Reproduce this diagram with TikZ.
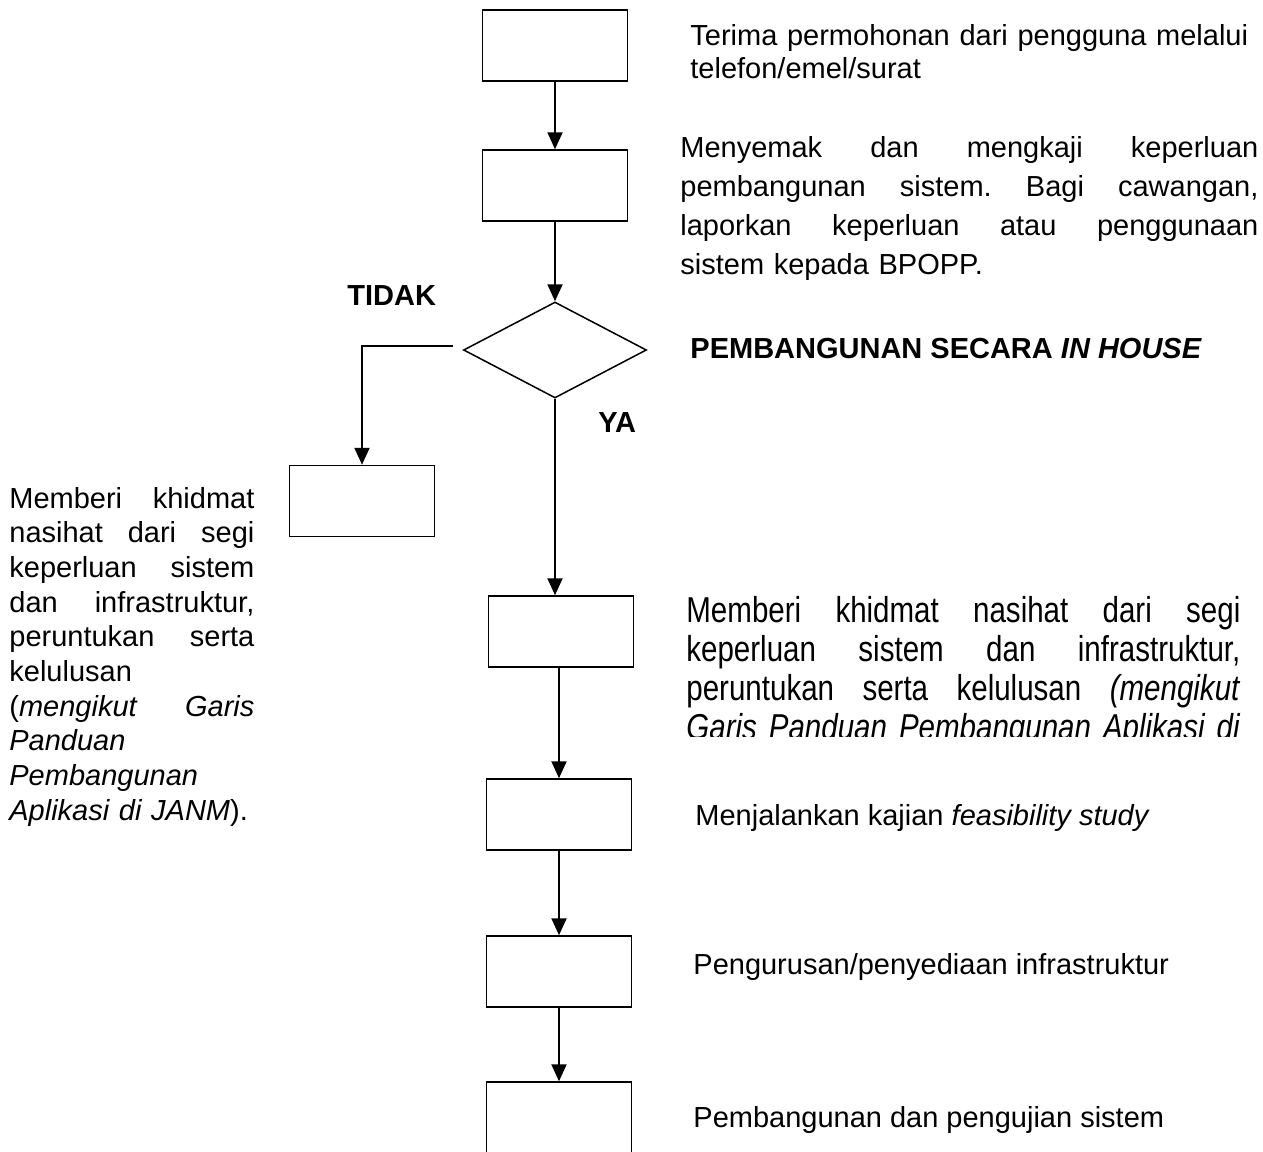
\documentclass[tikz,border=0pt]{standalone}
\usepackage{fontspec}
\setmainfont{Liberation Sans}
\newfontfamily\narrowsans[FakeStretch=0.82]{Liberation Sans}
\usetikzlibrary{arrows.meta,shapes.geometric}

\newcommand\jline[2]{\leavevmode\hbox to #1{\spaceskip=.278em plus 1fil\xspaceskip=\spaceskip #2}}

\tikzset{
  stepbox/.style={draw,line width=0.75pt,minimum width=72.5pt,minimum height=35.5pt,inner sep=0pt},
  choice/.style={draw,diamond,line width=0.75pt,minimum width=91.5pt,minimum height=48pt,inner sep=0pt},
  flow/.style={line width=1pt,-{Triangle[length=8.5pt,width=7.5pt]}},
  note/.style={anchor=base west,inner sep=0pt,align=left},
  answer/.style={anchor=base west,inner sep=0pt,font=\fontsize{14.5}{17}\selectfont\bfseries}
}

\begin{document}
\begin{tikzpicture}[x=0.5pt,y=-0.5pt]
  \useasboundingbox (0,0) rectangle (1263,1151);
  \clip (0,0) rectangle (1263,1151);

  \node[stepbox] (recv) at (555,45.5) {};
  \node[stepbox] (check) at (555,185.5) {};
  \node[choice] (decide) at (555,350) {};
  \node[stepbox] (advise) at (362,501) {};
  \node[stepbox] (consult) at (561,631.5) {};
  \node[stepbox] (study) at (559,814.5) {};
  \node[stepbox] (infra) at (559,971.5) {};
  \node[stepbox] (build) at (559,1117.5) {};
  \coordinate (nostart) at (453,346);

  \draw[flow] (recv) -- (check);
  \draw[flow] (check) -- (decide);
  \draw[flow] (nostart) -| (advise);
  \draw[flow] (decide) -- (decide |- consult.north);
  \draw[flow] (study |- consult.south) -- (study);
  \draw[flow] (study) -- (infra);
  \draw[flow] (infra) -- (build);

  \node[answer] (tidak) at (347,305) {TIDAK};
  \node[answer] (ya) at (598,432) {YA};
  \node[answer] (inhouse) at (690,358) {PEMBANGUNAN SECARA \textit{IN HOUSE}};

  \node[note,text width=280pt,font=\fontsize{14.5}{16.25}\selectfont] (recvtxt) at (690,46)
    {Terima permohonan dari pengguna melalui\\ telefon/emel/surat};
  \node[note,text width=289pt,font=\fontsize{14.5}{19.5}\selectfont] (checktxt) at (680,157)
    {\jline{289pt}{Menyemak dan mengkaji keperluan}\\
     \jline{289pt}{pembangunan sistem. Bagi cawangan,}\\
     \jline{289pt}{laporkan keperluan atau penggunaan}\\
     sistem kepada BPOPP.};
  \node[note,text width=122.5pt,font=\fontsize{14.5}{17.35}\selectfont] (advisetxt) at (9,508)
    {\jline{122.5pt}{Memberi khidmat}\\
     \jline{122.5pt}{nasihat dari segi}\\
     \jline{122.5pt}{keperluan sistem}\\
     \jline{122.5pt}{dan infrastruktur,}\\
     \jline{122.5pt}{peruntukan serta}\\
     kelulusan\\
     \jline{122.5pt}{(\textit{mengikut Garis}}\\
     \textit{Panduan}\\
     \textit{Pembangunan}\\
     \textit{Aplikasi di JANM}).};
  \begin{scope}
    \clip (680,560) rectangle (1263,736);
    \node[note,text width=277pt,font=\narrowsans\fontsize{18}{19.5}\selectfont] (consulttxt) at (686,622)
      {\jline{277pt}{Memberi khidmat nasihat dari segi}\\
       \jline{277pt}{keperluan sistem dan infrastruktur,}\\
       \jline{277pt}{peruntukan serta kelulusan \textit{(mengikut}}\\
       \jline{277pt}{\textit{Garis Panduan Pembangunan Aplikasi di}}};
  \end{scope}
  \node[note,font=\fontsize{14.5}{17}\selectfont] (studytxt) at (695,825)
    {Menjalankan kajian \textit{feasibility study}};
  \node[note,font=\fontsize{14.5}{17}\selectfont] (infratxt) at (693,974)
    {Pengurusan/penyediaan infrastruktur};
  \node[note,font=\fontsize{14.5}{17}\selectfont] (buildtxt) at (693,1127)
    {Pembangunan dan pengujian sistem};
\end{tikzpicture}
\end{document}
